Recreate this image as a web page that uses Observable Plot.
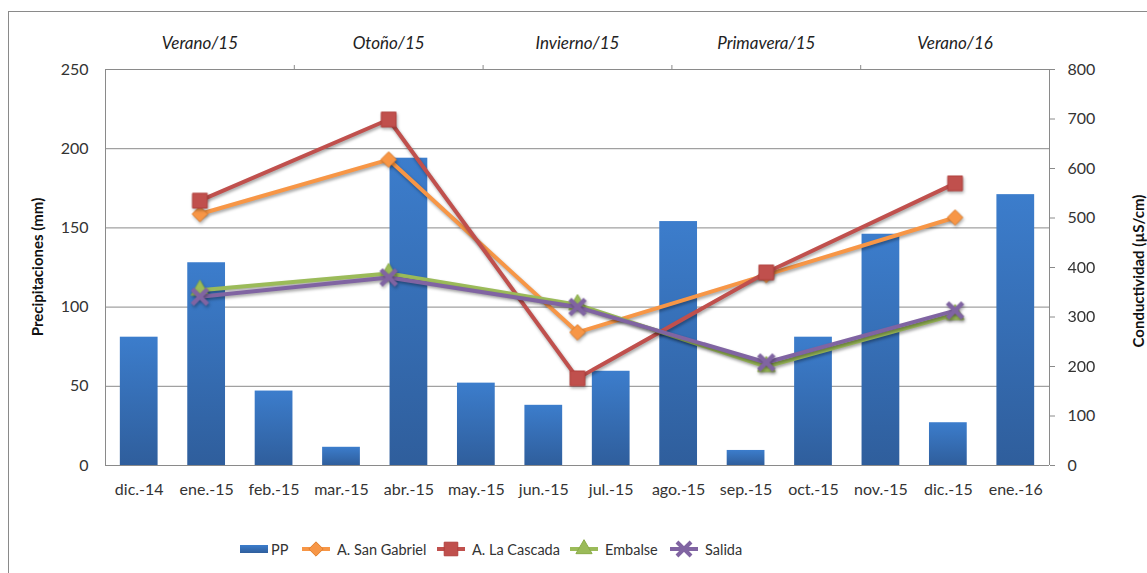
<!DOCTYPE html>
<html>
<head>
<meta charset="utf-8">
<script src="https://cdn.jsdelivr.net/npm/d3@7"></script>
<script src="https://cdn.jsdelivr.net/npm/@observablehq/plot@0.6"></script>
<style>
  html, body { margin: 0; padding: 0; background: #fff; }
  body { width: 1147px; height: 573px; overflow: hidden; position: relative; font-family: Lato, "Open Sans", sans-serif; color: #333; }
  #frame { position: absolute; left: 8px; top: 11px; width: 1200px; height: 700px; border: 1.5px solid #8a8a8a; box-sizing: border-box; }
  #chart { position: absolute; left: 0; top: 0; }
  .ytitle { position: absolute; font-weight: bold; font-size: 15px; color: #111; white-space: nowrap; transform: translate(-50%, -50%) rotate(-90deg); }
  #legend { position: absolute; top: 537px; left: 0; width: 1147px; height: 24px; font-size: 14.5px; color: #333; }
  .li { position: absolute; top: 0; height: 24px; display: flex; align-items: center; }
  svg g[aria-label="line"] { filter: drop-shadow(1.5px 2px 1.5px rgba(0,0,0,0.35)); }
  svg g[aria-label="dot"] { filter: drop-shadow(1.5px 2px 1.5px rgba(0,0,0,0.3)); }
</style>
</head>
<body>
<div id="frame"></div>
<div id="chart"></div>
<div class="ytitle" style="left:37px; top:267px;">Precipitaciones (mm)</div>
<div class="ytitle" style="left:1138px; top:271px;">Conductividad (µS/cm)</div>
<div id="legend"></div>
<script>
// ---- data ----
const months = ["dic.-14","ene.-15","feb.-15","mar.-15","abr.-15","may.-15","jun.-15","jul.-15","ago.-15","sep.-15","oct.-15","nov.-15","dic.-15","ene.-16"];
const pp = [81, 128, 47, 11.5, 194, 52, 38, 59.5, 154, 9.5, 81, 146, 27, 171];
const seasons = ["Verano/15","Otoño/15","Invierno/15","Primavera/15","Verano/16"];
const sanGabriel = [508, 618, 269, 385, 501];
const laCascada = [535, 699, 176, 390, 570];
const embalse = [354, 388, 325, 200, 305];
const salida = [341, 380, 320, 208, 313];
const ppTicks = [0, 50, 100, 150, 200, 250];
const condTicks = [0, 100, 200, 300, 400, 500, 600, 700, 800];

// ---- scales helpers ----
const nM = months.length, nS = seasons.length;
const seasonPos = k => (k + 0.5) * nM / nS;      // centre of season band in month units
const toMM = v => v * 250 / 800;                 // conductivity -> left axis units

const bars = months.map((m, i) => ({i, m, v: pp[i]}));
const seriesDefs = [
  {name: "A. San Gabriel", values: sanGabriel, color: "#f79646", symbol: "diamond2", r: 7, stroke: "#e07f2e"},
  {name: "A. La Cascada", values: laCascada, color: "#c0504d", symbol: "square", r: 8.3, stroke: "#b2403d"},
  {name: "Embalse", values: embalse, color: "#9bbb59", symbol: "triangle", r: 6.5, stroke: "#8aab48"},
  {name: "Salida", values: salida, color: "#8064a2", symbol: "times", r: 7, stroke: "#8064a2"}
];

const marks = [
  Plot.gridY(ppTicks, {stroke: "#8a8a8a", strokeOpacity: 1, strokeWidth: 1}),
  Plot.ruleX([0, nM], {stroke: "#8a8a8a", strokeWidth: 1}),
  Plot.rectY(bars, {x1: d => d.i + 0.22, x2: d => d.i + 0.78, y1: 0, y2: "v", fill: "url(#barGrad)"}),
];
for (const s of seriesDefs) {
  const data = s.values.map((v, k) => ({x: seasonPos(k), y: toMM(v)}));
  marks.push(Plot.line(data, {x: "x", y: "y", stroke: s.color, strokeWidth: 4}));
  if (s.symbol === "times") {
    marks.push(Plot.dot(data, {x: "x", y: "y", symbol: "times", r: s.r, stroke: s.color, strokeWidth: 4.5}));
  } else {
    marks.push(Plot.dot(data, {x: "x", y: "y", symbol: s.symbol, r: s.r, fill: s.color, stroke: s.stroke, strokeWidth: 1}));
  }
}
marks.push(
  Plot.axisX(months.map((m, i) => i + 0.5), {anchor: "bottom", tickSize: 0, tickPadding: 18, tickFormat: d => months[Math.floor(d)], fontSize: 16, fill: "#333", label: null}),
  Plot.axisX(d3.range(1, nS).map(k => k * nM / nS), {anchor: "top", tickSize: 5, tickFormat: () => "", stroke: "#8a8a8a", label: null}),
  Plot.text(seasons, {x: (d, k) => seasonPos(k), y: 250, dy: -26, text: d => d, fontStyle: "italic", fontSize: 17, fill: "#222"}),
  Plot.axisY(ppTicks, {anchor: "left", tickSize: 0, tickPadding: 17, fontSize: 16, fill: "#333", label: null}),
  Plot.axisY(condTicks.map(toMM), {anchor: "right", tickSize: 5, tickPadding: 13, stroke: "#8a8a8a", tickFormat: d => Math.round(d * 800 / 250), fontSize: 16, fill: "#333", label: null})
);

const chart = Plot.plot({
  width: 1147,
  height: 525,
  marginLeft: 105,
  marginRight: 98,
  marginTop: 69,
  marginBottom: 60,
  x: {domain: [0, nM], axis: null},
  y: {domain: [0, 250], axis: null},
  style: {fontFamily: "Lato, 'Open Sans', sans-serif", fontSize: "16px", background: "transparent", overflow: "visible"},
  marks
});

// gradient for bars
const ns = "http://www.w3.org/2000/svg";
const defs = document.createElementNS(ns, "defs");
defs.innerHTML = `<linearGradient id="barGrad" x1="0" y1="0" x2="0" y2="1">
  <stop offset="0" stop-color="#3c7dcc"/><stop offset="1" stop-color="#2f5e9c"/></linearGradient>`;
chart.insertBefore(defs, chart.firstChild);
document.getElementById("chart").appendChild(chart);

// legend
const legend = document.getElementById("legend");
const items = [
  {left: 240, html: `<svg width="28" height="10"><rect x="0" y="1" width="28" height="8" fill="url(#barGrad)"/></svg>`, name: "PP", gap: 3},
];
const lefts = [302, 437, 570, 670];
function symbolPath(s) {
  const size = s.r * s.r * Math.PI * 0.85;
  const sym = {diamond2: d3.symbolDiamond2, square: d3.symbolSquare, triangle: d3.symbolTriangle, times: d3.symbolTimes}[s.symbol];
  return d3.symbol(sym, size)();
}
seriesDefs.forEach((s, j) => {
  const p = symbolPath(s);
  const sym = s.symbol === "times"
    ? `<path d="${p}" transform="translate(14,10)" fill="none" stroke="${s.color}" stroke-width="4"/>`
    : `<path d="${p}" transform="translate(14,10)" fill="${s.color}" stroke="${s.stroke}"/>`;
  items.push({left: lefts[j], name: s.name, gap: 7,
    html: `<svg width="28" height="20"><line x1="0" x2="28" y1="10" y2="10" stroke="${s.color}" stroke-width="4"/>${sym}</svg>`});
});
for (const it of items) {
  const d = document.createElement("div");
  d.className = "li";
  d.style.left = it.left + "px";
  d.innerHTML = it.html + `<span style="margin-left:${it.gap}px">${it.name}</span>`;
  legend.appendChild(d);
}
</script>
</body>
</html>
